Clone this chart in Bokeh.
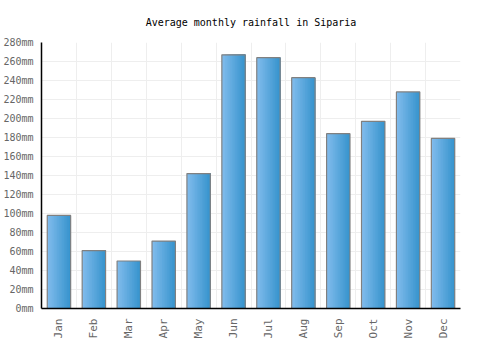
import numpy as np
from bokeh.plotting import figure
from bokeh.models import ColumnDataSource, FixedTicker, Range1d
from bokeh.transform import dodge
from bokeh.embed import file_html
from bokeh.resources import INLINE

months = ["Jan", "Feb", "Mar", "Apr", "May", "Jun", "Jul", "Aug", "Sep", "Oct", "Nov", "Dec"]
rainfall = [98, 61, 50, 71, 142, 267, 264, 243, 184, 197, 228, 179]
y_ticks = list(range(0, 281, 20))
y_tick_labels = {t: f"{t}mm" for t in y_ticks}

xpos = [i + 0.5 for i in range(len(months))]
src = ColumnDataSource(dict(x=xpos, top=rainfall, month=months))

p = figure(frame_width=419, frame_height=266, output_backend="svg", toolbar_location=None,
           x_range=Range1d(0, 12), y_range=Range1d(0, 280),
           title="Average monthly rainfall in Siparia",
           min_border_left=41, min_border_right=40, min_border_top=42, min_border_bottom=42)

p.title.align = "center"
p.title.vertical_align = "top"
p.title.text_font = "DejaVu Sans Mono"
p.title.text_font_size = "10px"
p.title.text_font_style = "normal"
p.title.text_color = "#000000"
p.title.standoff = 26

p.outline_line_color = None
p.background_fill_color = "white"

# gradient bars via overlapping strips (left light -> right darker)
N = 14
barw = 0.67
c0 = np.array([0x80, 0xbb, 0xec])
c1 = np.array([0x38, 0x95, 0xce])
for k in range(N):
    t = k / (N - 1)
    c = (c0 * (1 - t) + c1 * t).astype(int)
    col = "#%02x%02x%02x" % tuple(c)
    left = -barw / 2 + k * barw / N
    right = barw / 2
    p.vbar(x=dodge("x", (left + right) / 2), top="top", bottom=0, width=right - left,
           source=src, fill_color=col, line_color=None)
p.vbar(x="x", top="top", bottom=0, width=barw, source=src, fill_color=None,
       line_color="#808080", line_width=1.2)

p.xaxis.ticker = FixedTicker(ticks=xpos)
p.xaxis.major_label_overrides = {x: m for x, m in zip(xpos, months)}
p.xaxis.major_label_orientation = np.pi / 2
p.yaxis.ticker = FixedTicker(ticks=y_ticks)
p.yaxis.major_label_overrides = y_tick_labels

for ax in (p.xaxis, p.yaxis):
    ax.axis_line_color = "black"
    ax.axis_line_width = 1.5
    ax.major_tick_line_color = None
    ax.minor_tick_line_color = None
    ax.major_label_text_font = "DejaVu Sans Mono"
    ax.major_label_text_font_size = "10px"
    ax.major_label_text_color = "#666666"
    ax.major_label_standoff = 2
p.xaxis.major_label_text_font_size = "11px"
p.xaxis.major_label_standoff = 4

p.xgrid.ticker = FixedTicker(ticks=list(range(0, 13)))
p.xgrid.grid_line_color = "#eeeeee"
p.ygrid.grid_line_color = "#eeeeee"

open("out.html", "w").write(file_html(p, INLINE))
